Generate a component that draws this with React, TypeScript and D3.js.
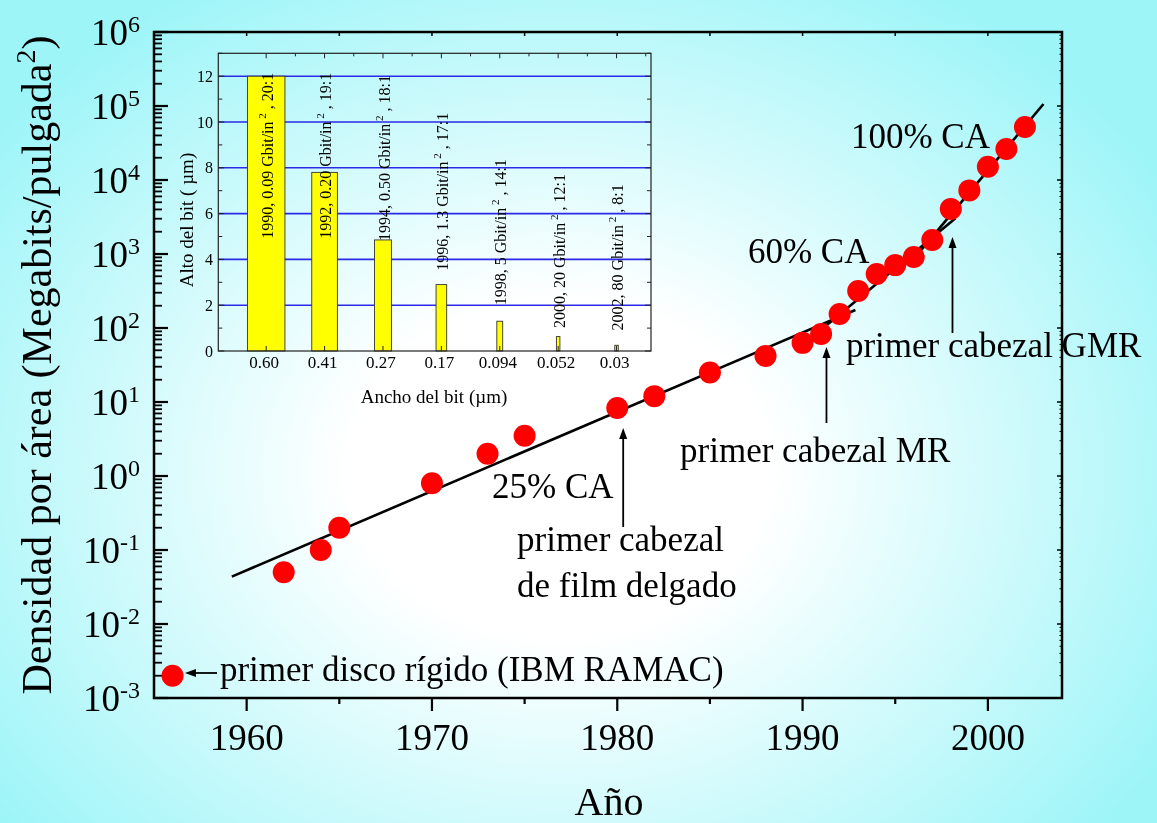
import React from "react";
import * as d3 from "d3";

// ---- main chart data ----
const years = [1956, 1962, 1964, 1965, 1970, 1973, 1975, 1980, 1982, 1985, 1988, 1990, 1991, 1992, 1993, 1994, 1995, 1996, 1997, 1998, 1999, 2000, 2001, 2002];
const density = [0.002, 0.05, 0.1, 0.2, 0.8, 2, 3.5, 8.3, 12, 25, 42, 63, 83, 155, 316, 537, 708, 912, 1550, 4070, 7240, 15100, 26300, 52000];

// fitted growth lines: [year, density]
const fit25: [number, number][] = [[1959.2, 0.0437], [1992.85, 175]];
const fit60: [number, number][] = [[1989.9, 55.8], [1998.25, 3034]];
const fit100: [number, number][] = [[1996.1, 920], [2003.0, 106400]];

const xTicks = [1960, 1970, 1980, 1990, 2000];
const xMinorTicks = [1965, 1975, 1985, 1995];
const yExponents = [-3, -2, -1, 0, 1, 2, 3, 4, 5, 6];

// ---- inset data ----
const bitWidths = ["0.60", "0.41", "0.27", "0.17", "0.094", "0.052", "0.03"];
const bitWidthVals = [0.6, 0.41, 0.27, 0.17, 0.094, 0.052, 0.03];
const bitHeights = [12, 7.8, 4.85, 2.9, 1.3, 0.63, 0.25];
const barYears = ["1990", "1992", "1994", "1996", "1998", "2000", "2002"];
const barDensities = ["0.09", "0.20", "0.50", "1.3", "5", "20", "80"];
const barRatios = ["20:1", "19:1", "18:1", "17:1", "14:1", "12:1", "8:1"];
const barLabelAt = [4.9, 4.9, 4.8, 3.5, 2.0, 1.0, 0.9];
const insetYTicks = [0, 2, 4, 6, 8, 10, 12];

// annotations in data coordinates (year, log10 density)
const annotations = [
  { lines: ["primer disco rígido (IBM RAMAC)"], year: 1958.56, logv: -2.77 },
  { lines: ["25% CA"], year: 1973.24, logv: -0.297 },
  { lines: ["primer cabezal", "de film delgado"], year: 1974.59, logv: -1.014 },
  { lines: ["primer cabezal MR"], year: 1983.39, logv: 0.189 },
  { lines: ["60% CA"], year: 1987.05, logv: 2.878 },
  { lines: ["100% CA"], year: 1992.61, logv: 4.432 },
  { lines: ["primer cabezal GMR"], year: 1992.34, logv: 1.608 },
];
const vArrows = [
  { year: 1980.32, from: -0.689, to: 0.649 },
  { year: 1991.29, from: 0.716, to: 1.743 },
  { year: 1998.09, from: 1.932, to: 3.23 },
];
const hArrows = [{ logv: -2.662, from: 1958.4, to: 1956.67 }];

const W = 1157;
const H = 823;
const FONT = "'Liberation Serif', 'Times New Roman', serif";

export default function App() {
  const x = d3.scaleLinear().domain([1955, 2004]).range([154, 1062]);
  const y = d3.scaleLog().domain([1e-3, 1e6]).range([698, 32]);
  const line = d3
    .line<[number, number]>()
    .x((d) => x(d[0]))
    .y((d) => y(d[1]));

  const ix = d3.scaleLinear().domain([0.18, 7.59]).range([218.3, 651]);
  const iy = d3.scaleLinear().domain([0, 13]).range([351, 53.3]);
  const [il, ir] = ix.range();
  const [ib, it] = iy.range();

  const [xl, xr] = x.range();
  const [yb, yt] = y.range();

  const minorLog: number[] = [];
  for (let e = -3; e < 6; e++) for (let m = 2; m <= 9; m++) minorLog.push(m * Math.pow(10, e));

  const arrowHead = (tx: number, ty: number, dx: number, dy: number) => {
    const L = 11, Wd = 4;
    const bx = tx - dx * L, by = ty - dy * L;
    const px = -dy, py = dx;
    return `M${tx},${ty}L${bx + px * Wd},${by + py * Wd}L${bx - px * Wd},${by - py * Wd}Z`;
  };

  return (
    <svg width={W} height={H} style={{ position: "fixed", left: 0, top: 0 }} fontFamily={FONT}>
      <defs>
        <radialGradient id="bg" gradientUnits="userSpaceOnUse" cx={560} cy={470} r={700}
          gradientTransform="translate(560 470) scale(1 0.8) translate(-560 -470)">
          <stop offset="0" stopColor="#ffffff" />
          <stop offset="0.3" stopColor="#ffffff" />
          <stop offset="1" stopColor="#9ef5f8" />
        </radialGradient>
      </defs>
      <rect x={0} y={0} width={W} height={H} fill="url(#bg)" />

      {/* main frame */}
      <rect x={xl} y={yt} width={xr - xl} height={yb - yt} fill="none" stroke="#000" strokeWidth={2.5} />

      {/* left axis ticks (inward) */}
      {yExponents.map((e) => (
        <line key={"ym" + e} x1={xl} x2={xl + 14} y1={y(Math.pow(10, e))} y2={y(Math.pow(10, e))} stroke="#000" strokeWidth={2.2} />
      ))}
      {minorLog.map((v, i) => (
        <line key={"yn" + i} x1={xl} x2={xl + 8} y1={y(v)} y2={y(v)} stroke="#000" strokeWidth={1.8} />
      ))}
      {/* right axis ticks */}
      {yExponents.map((e) => (
        <line key={"yr" + e} x1={xr} x2={xr - 5} y1={y(Math.pow(10, e))} y2={y(Math.pow(10, e))} stroke="#000" strokeWidth={1.5} />
      ))}
      {minorLog.map((v, i) => (
        <line key={"yrn" + i} x1={xr} x2={xr - 2.5} y1={y(v)} y2={y(v)} stroke="#000" strokeWidth={1} />
      ))}
      {/* bottom ticks (outward) */}
      {xTicks.map((t) => (
        <line key={"xt" + t} x1={x(t)} x2={x(t)} y1={yb} y2={yb + 13} stroke="#000" strokeWidth={2.2} />
      ))}
      {xMinorTicks.map((t) => (
        <line key={"xm" + t} x1={x(t)} x2={x(t)} y1={yb} y2={yb + 6} stroke="#000" strokeWidth={2.2} />
      ))}
      {/* top ticks */}
      {[...xTicks, ...xMinorTicks].map((t) => (
        <line key={"xtt" + t} x1={x(t)} x2={x(t)} y1={yt} y2={yt + 4} stroke="#000" strokeWidth={1.5} />
      ))}

      {/* y tick labels */}
      {yExponents.map((e) => (
        <text key={"yl" + e} x={140} y={y(Math.pow(10, e)) + 13} fontSize={37} textAnchor="end" fill="#000">
          10<tspan dy={-13} fontSize={24}>{e}</tspan>
        </text>
      ))}
      {/* x tick labels */}
      {xTicks.map((t) => (
        <text key={"xl" + t} x={x(t)} y={750} fontSize={37} textAnchor="middle" fill="#000">{t}</text>
      ))}

      {/* axis titles */}
      <text transform={`translate(51,${(yt + yb) / 2}) rotate(-90)`} fontSize={42} textAnchor="middle" fill="#000">
        Densidad por área (Megabits/pulgada<tspan dy={-16} fontSize={28}>2</tspan><tspan dy={16}>)</tspan>
      </text>
      <text x={609} y={815} fontSize={40} textAnchor="middle" fill="#000">Año</text>

      {/* ---- inset ---- */}
      {insetYTicks.filter((t) => t > 0).map((t) => (
        <line key={"ig" + t} x1={il} x2={ir} y1={iy(t)} y2={iy(t)} stroke="#2a2ae8" strokeWidth={1.6} />
      ))}
      {bitHeights.map((h, i) => {
        const c = ix(i + 1);
        const w = Math.max(bitWidthVals[i] * 1.07 * (ix(2) - ix(1)), 3.5);
        return (
          <rect key={"bar" + i} x={c - w / 2} y={iy(h)} width={w} height={iy(0) - iy(h)} fill="#ffff00" stroke="#333" strokeWidth={0.9} />
        );
      })}
      <rect x={il} y={it} width={ir - il} height={ib - it} fill="none" stroke="#222" strokeWidth={1.2} />
      {/* inset ticks */}
      {d3.range(0, 14).map((t) => (
        <g key={"iyt" + t}>
          <line x1={il} x2={il + (t % 2 === 0 ? 6 : 4)} y1={iy(t)} y2={iy(t)} stroke="#222" strokeWidth={1} />
          <line x1={ir} x2={ir - (t % 2 === 0 ? 6 : 4)} y1={iy(t)} y2={iy(t)} stroke="#222" strokeWidth={1} />
        </g>
      ))}
      {d3.range(1, 8).map((t) => (
        <g key={"ixt" + t}>
          <line x1={ix(t)} x2={ix(t)} y1={it} y2={it + 5} stroke="#222" strokeWidth={1} />
          <line x1={ix(t + 0.5)} x2={ix(t + 0.5)} y1={it} y2={it + 3} stroke="#222" strokeWidth={1} />
          <line x1={ix(t)} x2={ix(t)} y1={ib} y2={ib - 5} stroke="#222" strokeWidth={1} />
        </g>
      ))}
      {insetYTicks.map((t) => (
        <text key={"iyl" + t} x={213} y={iy(t) + 5.5} fontSize={16} textAnchor="end" fill="#000">{t}</text>
      ))}
      {bitWidths.map((b, i) => (
        <text key={"ixl" + i} x={ix(i + 1) - 2} y={368} fontSize={17} textAnchor="middle" fill="#000">{b}</text>
      ))}
      <text x={434} y={403} fontSize={19} textAnchor="middle" fill="#000">Ancho del bit (µm)</text>
      <text transform={`translate(193,220) rotate(-90)`} fontSize={19} textAnchor="middle" fill="#000">Alto del bit ( µm)</text>
      {barYears.map((yr, i) => (
        <text key={"bl" + i} transform={`translate(${ix(i + 1) + 1},${iy(barLabelAt[i])}) rotate(-90)`} dy="0.35em" fontSize={16} fill="#000">
          {`${yr}, ${barDensities[i]} Gbit/in`}
          <tspan dy={-7} fontSize={11}>{" 2"}</tspan>
          <tspan dy={7}>{` , ${barRatios[i]}`}</tspan>
        </text>
      ))}

      {/* ---- fit lines ---- */}
      {[fit25, fit60, fit100].map((f, i) => (
        <path key={"fit" + i} d={line(f) || ""} fill="none" stroke="#000" strokeWidth={2.6} />
      ))}

      {/* ---- points ---- */}
      {years.map((yr, i) => (
        <circle key={"pt" + i} cx={x(yr)} cy={y(density[i])} r={11} fill="#ff0000" />
      ))}

      {/* ---- arrows ---- */}
      {vArrows.map((a, i) => {
        const ax = x(a.year);
        const y1 = y(Math.pow(10, a.from));
        const y2 = y(Math.pow(10, a.to));
        return (
          <g key={"va" + i}>
            <line x1={ax} x2={ax} y1={y1} y2={y2 + 8} stroke="#000" strokeWidth={1.8} />
            <path d={arrowHead(ax, y2, 0, -1)} fill="#000" />
          </g>
        );
      })}
      {hArrows.map((a, i) => {
        const ay = y(Math.pow(10, a.logv));
        const x1 = x(a.from);
        const x2 = x(a.to);
        return (
          <g key={"ha" + i}>
            <line x1={x1} x2={x2 + 8} y1={ay} y2={ay} stroke="#000" strokeWidth={1.8} />
            <path d={arrowHead(x2, ay, -1, 0)} fill="#000" />
          </g>
        );
      })}

      {/* ---- annotation text ---- */}
      {annotations.map((a, i) => (
        <text key={"an" + i} x={x(a.year)} y={y(Math.pow(10, a.logv))} fontSize={35} fill="#000">
          {a.lines.map((l, j) => (
            <tspan key={j} x={x(a.year)} dy={j === 0 ? 0 : 46}>{l}</tspan>
          ))}
        </text>
      ))}
    </svg>
  );
}
